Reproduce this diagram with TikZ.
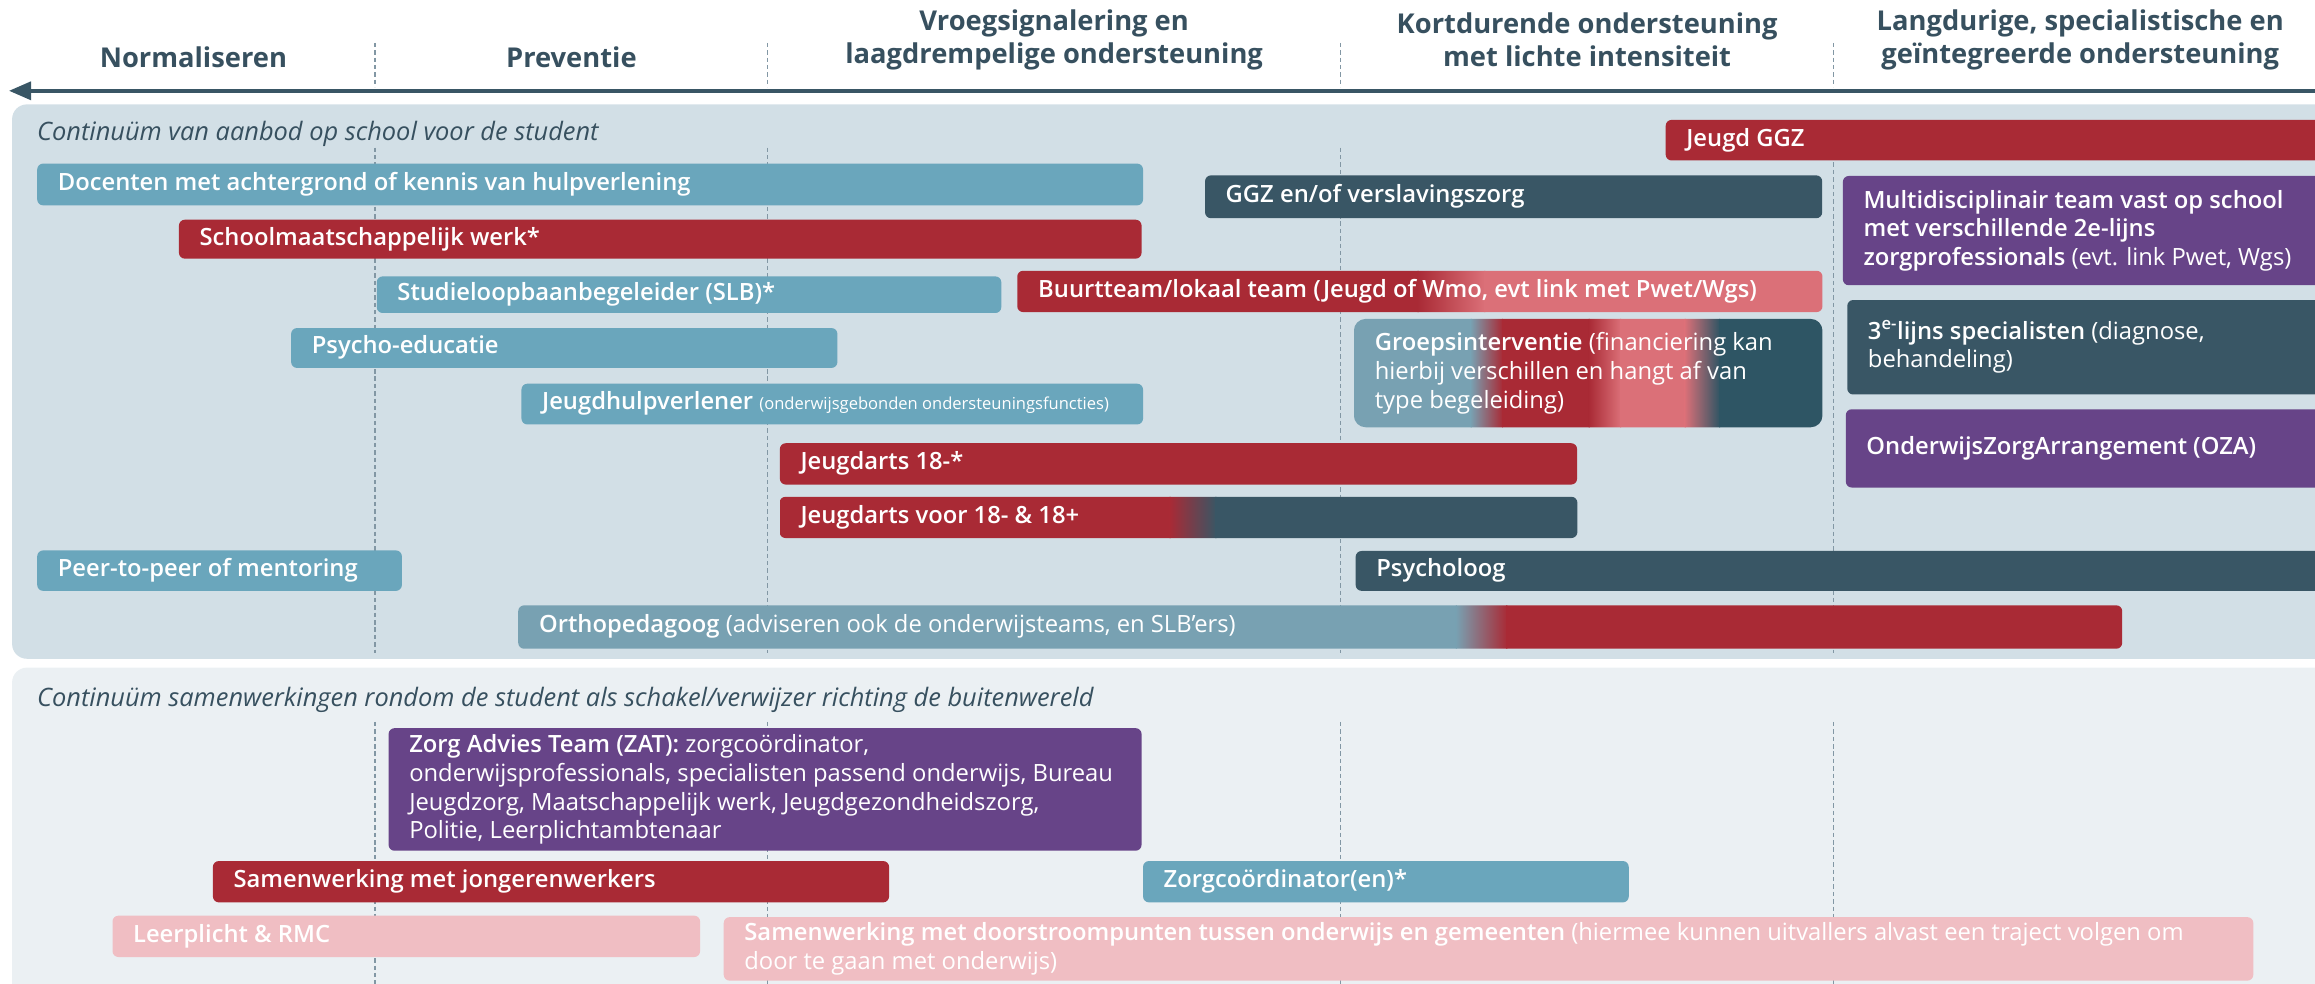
\documentclass[tikz,border=0pt]{standalone}
\usepackage{fontspec}
\setmainfont{Open Sans}
\IfFontExistsTF{Open Sans SemiBold}{\newfontfamily\sbf{Open Sans SemiBold}}{%
  \IfFontExistsTF{Open Sans Semibold}{\newfontfamily\sbf{Open Sans Semibold}}{\newcommand\sbf{\bfseries}}}
\usetikzlibrary{arrows.meta}
\definecolor{cDark}{HTML}{395665}
\definecolor{cHead}{HTML}{37505F}
\definecolor{cRed}{HTML}{A92A35}
\definecolor{cBlue}{HTML}{6AA6BC}
\definecolor{cPurple}{HTML}{674488}
\definecolor{cPink}{HTML}{DB7078}
\definecolor{cLPink}{HTML}{F0BEC3}
\definecolor{cGrayBlue}{HTML}{78A1B2}
\definecolor{cTeal}{HTML}{2E5564}
\definecolor{cPanelA}{HTML}{D2DFE6}
\definecolor{cPanelB}{HTML}{EBF0F3}
\definecolor{cDash}{HTML}{8297A4}
\newcommand\rg[1]{{\normalfont #1}}
\tikzset{
  box/.style={rounded corners=4pt, inner sep=0pt, anchor=north west, draw=none},
  panel/.style={rounded corners=10pt, inner sep=0pt, anchor=north west, draw=none},
  lbl/.style={text=white, anchor=west, inner sep=0pt, align=left,
    font=\sbf\fontsize{16.1}{19.5}\selectfont},
  lbl1/.style={text height=11.6pt, text depth=3.6pt},
  head/.style={text=cHead, inner sep=0pt, align=center,
    font=\bfseries\fontsize{18.5}{22}\selectfont},
  paneltitle/.style={text=cHead, inner sep=0pt, anchor=west,
    font=\itshape\fontsize{17.2}{20}\selectfont},
  dashline/.style={draw=cDash, line width=0.8pt, dash pattern=on 3pt off 2pt},
  arrowline/.style={draw=cDark, line width=2.8pt, -{Triangle[length=15pt,width=12pt]}}
}
\newcommand\bx[6]{\node[box,fill=#6,minimum width={(#4-(#2))*1pt},minimum height={(#5-(#3))*1pt}] (#1) at (#2,#3) {};}
\newcommand\tx[2]{\node[lbl,lbl1] (#1-t) at ([xshift=14pt]#1.west) {#2};}
\newcommand\txm[2]{\node[lbl] (#1-t) at ([xshift=14pt]#1.west) {#2};}
\begin{document}
\begin{tikzpicture}[x=1pt,y=-1pt]
\useasboundingbox (0,0) rectangle (1568,666);
% header
\node[head] (h1) at (131,38.5) {Normaliseren};
\node[head] (h2) at (387,38.5) {Preventie};
\node[head] (h3) at (714,27) {Vroegsignalering en\\laagdrempelige ondersteuning};
\node[head] (h4) at (1075,27) {Kortdurende ondersteuning\\met lichte intensiteit};
\node[head] (h5) at (1409,27) {Langdurige, specialistische en\\geïntegreerde ondersteuning};
\coordinate (arrR) at (1600,61.5);
\coordinate (arrL) at (6,61.5);
\draw[arrowline] (arrR) -- (arrL);
% panels
\node[panel,fill=cPanelA,minimum width=1600pt,minimum height=375.5pt] (panelA) at (8,70.5) {};
\node[panel,fill=cPanelB,minimum width=1600pt,minimum height=260pt] (panelB) at (8,452) {};
\foreach \x in {254,520,908,1242}{
  \draw[dashline] (\x,29) -- (\x,59);
  \draw[dashline] (\x,100) -- (\x,442);
  \draw[dashline] (\x,489) -- (\x,670);
}
\node[paneltitle] (titleA) at (25,91) {Continuüm van aanbod op school voor de student};
\node[paneltitle] (titleB) at (25,474) {Continuüm samenwerkingen rondom de student als schakel/verwijzer richting de buitenwereld};
% panel A bars
\bx{jggz}{1128}{81}{1590}{108.5}{cRed}
\tx{jggz}{Jeugd GGZ}
\bx{doc}{25}{110.6}{774}{138.9}{cBlue}
\tx{doc}{Docenten met achtergrond of kennis van hulpverlening}
\bx{ggz}{816}{118.6}{1234}{147.6}{cDark}
\tx{ggz}{GGZ en/of verslavingszorg}
\bx{multi}{1248}{119}{1590}{193}{cPurple}
\txm{multi}{Multidisciplinair team vast op school\\met verschillende 2e-lijns\\zorgprofessionals \rg{(evt. link Pwet, Wgs)}}
\bx{smw}{121}{148.6}{773}{175}{cRed}
\tx{smw}{Schoolmaatschappelijk werk*}
\bx{slb}{255}{187}{678}{211.8}{cBlue}
\tx{slb}{Studieloopbaanbegeleider (SLB)*}
% Buurtteam gradient
\bx{buurt}{689}{183.4}{1234}{211}{none}
\begin{scope}
  \clip[rounded corners=4pt] (buurt.north west) rectangle (buurt.south east);
  \fill[cRed] (689,180) rectangle (961,215);
  \shade[left color=cRed,right color=cPink] (960,180) rectangle (1006,215);
  \fill[cPink] (1005,180) rectangle (1240,215);
\end{scope}
\tx{buurt}{Buurtteam/lokaal team (Jeugd of Wmo, evt link met Pwet/Wgs)}
\bx{third}{1251}{203}{1590}{267}{cDark}
\txm{third}{3\textsuperscript{e-}lijns specialisten \rg{(diagnose,}\\\rg{behandeling)}}
\bx{psy}{197}{222}{567}{249}{cBlue}
\tx{psy}{Psycho-educatie}
% Groepsinterventie gradient
\bx{groep}{917}{216}{1234}{289}{none}
\begin{scope}
  \clip[rounded corners=8pt] (groep.north west) rectangle (groep.south east);
  \fill[cGrayBlue] (917,210) rectangle (997,295);
  \shade[left color=cGrayBlue,right color=cRed] (996,210) rectangle (1018,295);
  \fill[cRed] (1017,210) rectangle (1077,295);
  \shade[left color=cRed,right color=cPink] (1076,210) rectangle (1098,295);
  \fill[cPink] (1097,210) rectangle (1142,295);
  \shade[left color=cPink,right color=cTeal] (1141,210) rectangle (1165,295);
  \fill[cTeal] (1164,210) rectangle (1240,295);
\end{scope}
\txm{groep}{Groepsinterventie \rg{(financiering kan}\\\rg{hierbij verschillen en hangt af van}\\\rg{type begeleiding)}}
\bx{oza}{1250}{277}{1590}{330}{cPurple}
\tx{oza}{OnderwijsZorgArrangement (OZA)}
\bx{jhv}{353}{259.7}{774}{287.3}{cBlue}
\tx{jhv}{Jeugdhulpverlener {\normalfont\fontsize{11.2}{13}\selectfont (onderwijsgebonden ondersteuningsfuncties)}}
\bx{ja}{528}{300}{1068}{328}{cRed}
\tx{ja}{Jeugdarts 18-*}
% Jeugdarts voor gradient
\bx{jav}{528}{336.5}{1068}{364}{none}
\begin{scope}
  \clip[rounded corners=4pt] (jav.north west) rectangle (jav.south east);
  \fill[cRed] (528,330) rectangle (793,370);
  \shade[left color=cRed,right color=cDark] (792,330) rectangle (824,370);
  \fill[cDark] (823,330) rectangle (1070,370);
\end{scope}
\tx{jav}{Jeugdarts voor 18- \& 18+}
\bx{peer}{25}{372.6}{272}{400}{cBlue}
\tx{peer}{Peer-to-peer of mentoring}
\bx{psyl}{918}{373}{1590}{400}{cDark}
\tx{psyl}{Psycholoog}
% Orthopedagoog gradient
\bx{ortho}{351}{410}{1437}{439}{none}
\begin{scope}
  \clip[rounded corners=4pt] (ortho.north west) rectangle (ortho.south east);
  \fill[cGrayBlue] (351,405) rectangle (987,445);
  \shade[left color=cGrayBlue,right color=cRed] (986,405) rectangle (1021,445);
  \fill[cRed] (1020,405) rectangle (1440,445);
\end{scope}
\tx{ortho}{Orthopedagoog \rg{(adviseren ook de onderwijsteams, en SLB’ers)}}
% panel B bars
\bx{zat}{263}{493}{773}{576}{cPurple}
\txm{zat}{Zorg Advies Team (ZAT): \rg{zorgcoördinator,}\\\rg{onderwijsprofessionals, specialisten passend onderwijs, Bureau}\\\rg{Jeugdzorg, Maatschappelijk werk, Jeugdgezondheidszorg,}\\\rg{Politie, Leerplichtambtenaar}}
\bx{jong}{144}{583}{602}{611}{cRed}
\tx{jong}{Samenwerking met jongerenwerkers}
\bx{zc}{774}{583}{1103}{611}{cBlue}
\tx{zc}{Zorgcoördinator(en)*}
\bx{leer}{76}{620}{474}{648}{cLPink}
\tx{leer}{Leerplicht \& RMC}
\bx{door}{490}{621}{1526}{664}{cLPink}
\txm{door}{Samenwerking met doorstroompunten tussen onderwijs en gemeenten \rg{(hiermee kunnen uitvallers alvast een traject volgen om}\\\rg{door te gaan met onderwijs)}}
\end{tikzpicture}
\end{document}
